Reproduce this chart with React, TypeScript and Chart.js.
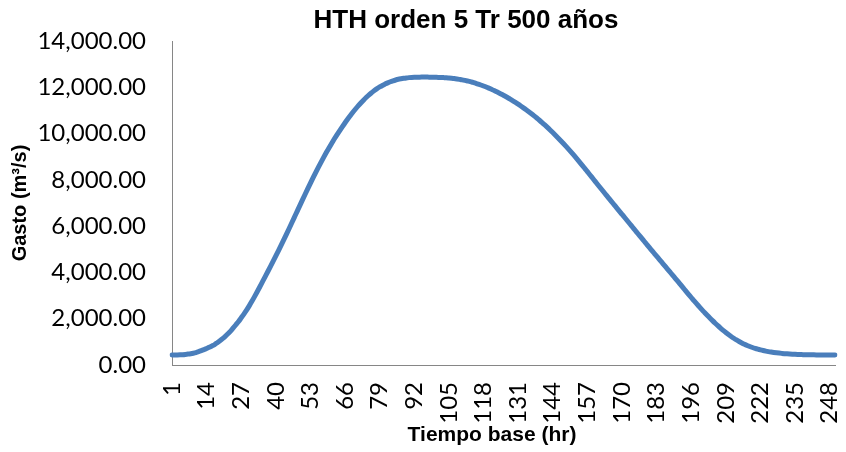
import React, { useEffect, useRef } from "react";
import { Chart, registerables } from "chart.js";

Chart.register(...registerables);

const chartTitle = "HTH orden 5 Tr 500 años";
const xAxisTitle = "Tiempo base (hr)";
const yAxisTitle = "Gasto (m³/s)";

// Hours 1..250 (categories)
const hours: string[] = Array.from({ length: 250 }, (_, i) => String(i + 1));
const labelStep = 13;

// Gasto (m³/s)
const gastoRise = [
  432, 433, 436, 441, 448, 458, 471, 488, 510, 538,
  575, 618, 664, 712, 767, 825, 885, 965, 1050, 1140,
  1240, 1350, 1465, 1600, 1740, 1883, 2040, 2200, 2370, 2555,
  2750, 2955, 3165, 3380, 3600, 3820, 4040, 4262, 4487, 4715,
  4945, 5178, 5416, 5657, 5900, 6145, 6392, 6640, 6888, 7135,
  7380, 7622, 7862, 8098, 8328, 8550, 8768, 8982, 9190, 9390,
  9585, 9775, 9957, 10132, 10303, 10470, 10630, 10785, 10932, 11072,
  11207, 11334, 11454, 11569, 11675, 11770, 11860, 11940, 12013, 12080,
  12138, 12192, 12240, 12280, 12315, 12345, 12368, 12388, 12405, 12417,
];
const gastoPeak = [
  12426, 12432, 12436, 12439, 12440, 12441, 12440, 12438, 12436, 12432,
  12428, 12423, 12418, 12412, 12402, 12391, 12378, 12361, 12342, 12322,
  12298, 12272, 12245, 12212, 12177, 12140, 12098, 12055, 12010, 11962,
  11912, 11860, 11803, 11745, 11685, 11622, 11557, 11490, 11418, 11345,
  11270, 11192, 11112, 11030, 10945, 10857, 10766, 10672, 10575, 10475,
];
const gastoFall = [
  10372, 10266, 10157, 10045, 9930, 9812, 9692, 9570, 9445, 9317,
  9187, 9054, 8918, 8780, 8640, 8498, 8355, 8212, 8068, 7924,
  7780, 7637, 7495, 7354, 7213, 7072, 6932, 6792, 6652, 6512,
  6372, 6232, 6092, 5952, 5812, 5672, 5533, 5394, 5255, 5113,
  4977, 4840, 4703, 4567, 4430, 4293, 4157, 4020, 3883, 3747,
  3610, 3470, 3330, 3190, 3053, 2917, 2780, 2650, 2520, 2390,
  2268, 2148, 2030, 1916, 1805, 1698, 1596, 1498, 1405, 1317,
  1234, 1156, 1083, 1016, 954, 897, 845, 798, 756, 718,
  684, 653, 625, 600, 578, 559, 542, 527, 514, 502,
  491, 482, 474, 467, 461, 456, 452, 448, 445, 443,
  441, 439, 437, 436, 435, 434, 433, 432, 432, 431,
];
const gasto = [...gastoRise, ...gastoPeak, ...gastoFall];

const yMin = 0;
const yMax = 14000;
const yStep = 2000;

const titlePlugin = {
  id: "customTitles",
  afterDraw(chart: any) {
    const ctx = chart.ctx;
    ctx.save();
    ctx.fillStyle = "#000";
    ctx.textAlign = "center";
    ctx.textBaseline = "middle";
    ctx.font = "bold 26px 'Liberation Sans', Arial, sans-serif";
    ctx.fillText(chartTitle, 466, 21);
    ctx.font = "bold 21px 'Liberation Sans', Arial, sans-serif";
    ctx.fillText(xAxisTitle, 492, 435);
    ctx.restore();
  },
};

export default function App() {
  const canvasRef = useRef<HTMLCanvasElement | null>(null);

  useEffect(() => {
    document.body.style.margin = "0";
    const canvas = canvasRef.current;
    if (!canvas) return;
    const tickFont = { family: "Lato, 'Liberation Sans', sans-serif", size: 24 };
    const chart = new Chart(canvas, {
      type: "line",
      data: {
        labels: hours,
        datasets: [
          {
            label: "Gasto",
            data: gasto,
            borderColor: "#4A7EBB",
            borderWidth: 5,
            pointRadius: 0,
            cubicInterpolationMode: "monotone",
            fill: false,
            borderCapStyle: "round",
            borderJoinStyle: "round",
          },
        ],
      },
      options: {
        responsive: false,
        animation: false,
        layout: { padding: { top: 41, right: 11, bottom: 0, left: 0 } },
        plugins: {
          legend: { display: false },
          title: { display: false },
          tooltip: { enabled: false },
        },
        scales: {
          x: {
            type: "category",
            offset: false,
            grid: { display: false, drawTicks: false },
            border: { display: true, color: "#868686", width: 1 },
            ticks: {
              autoSkip: false,
              minRotation: 90,
              maxRotation: 90,
              padding: 17,
              color: "#000",
              font: tickFont,
              callback: (_v: any, i: number) => (i % labelStep === 0 ? hours[i] : ""),
            },
            title: { display: false, text: xAxisTitle },
            afterFit: (scale: any) => {
              scale.height = 87;
              scale.paddingLeft = 0;
              scale.paddingRight = 0;
            },
          },
          y: {
            min: yMin,
            max: yMax,
            grid: { display: false, drawTicks: false },
            border: { display: true, color: "#868686", width: 1 },
            ticks: {
              stepSize: yStep,
              padding: 26,
              color: "#000",
              font: tickFont,
              callback: (v: any) =>
                Number(v).toLocaleString("en-US", {
                  minimumFractionDigits: 2,
                  maximumFractionDigits: 2,
                }),
            },
            title: {
              display: true,
              text: yAxisTitle,
              color: "#000",
              font: { family: "'Liberation Sans', Arial, sans-serif", size: 20, weight: "bold" },
              padding: { top: 8, bottom: 0 },
            },
            afterFit: (scale: any) => {
              scale.width = 172;
            },
          },
        },
      },
      plugins: [titlePlugin],
    });
    return () => chart.destroy();
  }, []);

  return (
    <div style={{ width: 846, height: 452 }}>
      <canvas ref={canvasRef} width={846} height={452} />
    </div>
  );
}
